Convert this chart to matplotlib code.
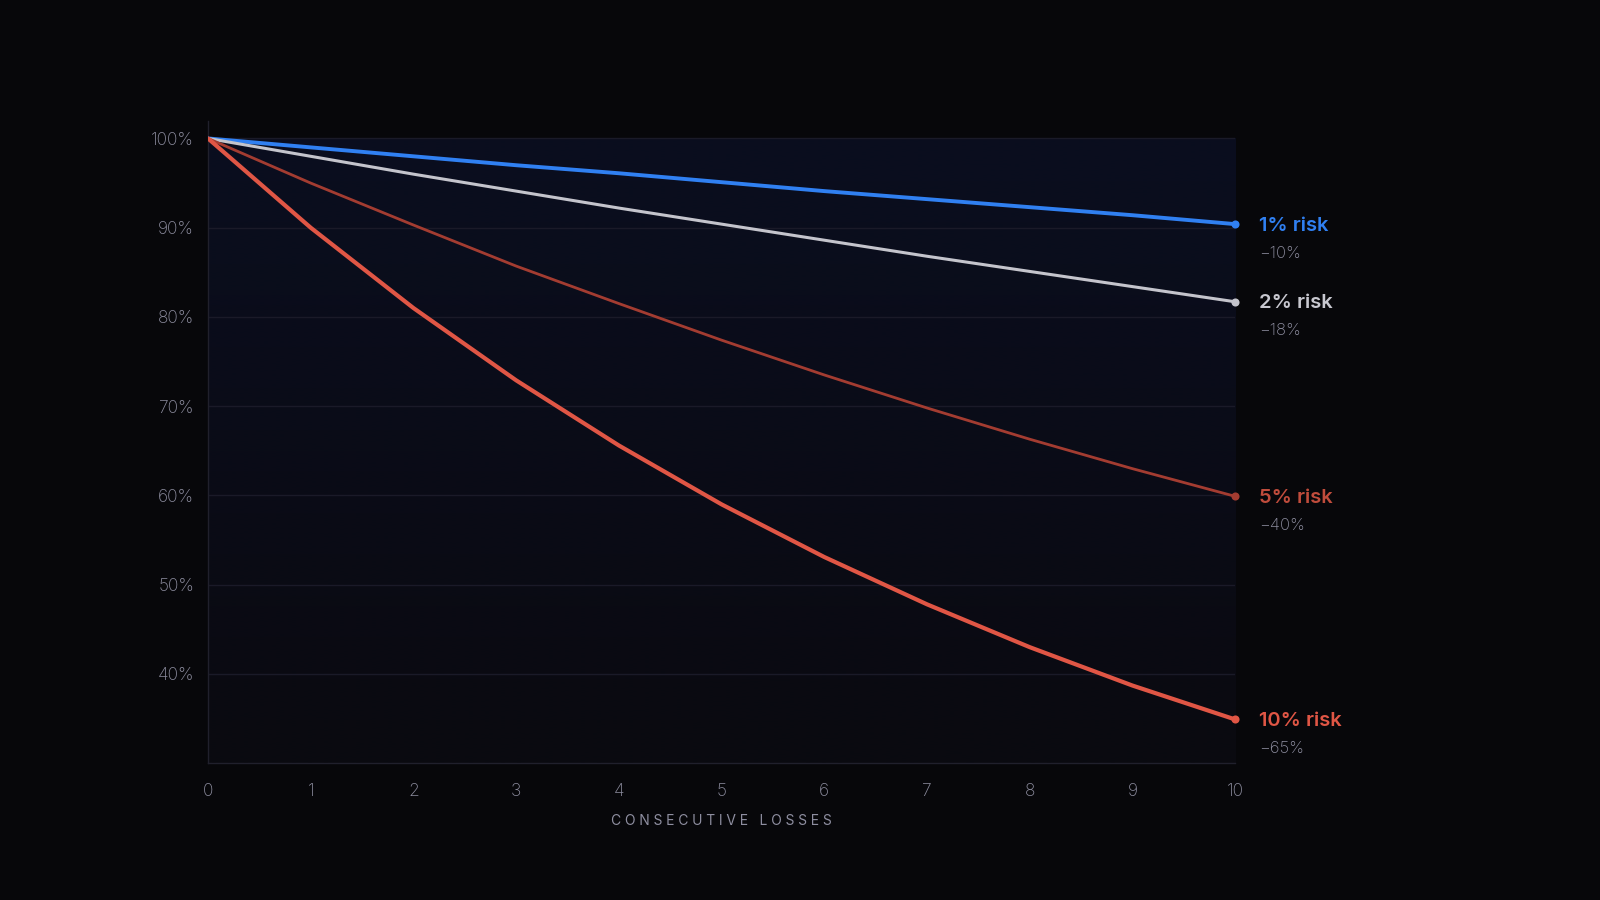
import numpy as np
import matplotlib
matplotlib.use("Agg")
import matplotlib.pyplot as plt
from matplotlib.colors import LinearSegmentedColormap

plt.rcParams['font.family'] = ['Inter', 'DejaVu Sans']

losses = [0, 1, 2, 3, 4, 5, 6, 7, 8, 9, 10]
risk_1 = [100, 99.0, 98.0, 97.0, 96.1, 95.1, 94.1, 93.2, 92.3, 91.4, 90.4]
risk_2 = [100, 98.0, 96.0, 94.1, 92.2, 90.4, 88.6, 86.8, 85.1, 83.4, 81.7]
risk_5 = [100, 95.0, 90.3, 85.7, 81.5, 77.4, 73.5, 69.8, 66.3, 63.0, 59.9]
risk_10 = [100, 90.0, 81.0, 72.9, 65.6, 59.0, 53.1, 47.8, 43.0, 38.7, 34.9]
series_names = ["1% risk", "2% risk", "5% risk", "10% risk"]
drawdown_labels = ["\u221210%", "\u221218%", "\u221240%", "\u221265%"]
y_ticks = [40, 50, 60, 70, 80, 90, 100]
x_ticks = [0, 1, 2, 3, 4, 5, 6, 7, 8, 9, 10]

BG = "#07070a"
TICK = "#8e8ea0"
line_colors = ["#3080f2", "#c4c4cc", "#a33c31", "#e05645"]
label_colors = ["#3080f2", "#c8c8d0", "#c04c3c", "#e05645"]
line_widths = [2.8, 2.2, 2.0, 3.0]

fig = plt.figure(figsize=(16, 9), dpi=100, facecolor=BG)
ax = fig.add_axes([0.130, 0.152, 0.642, 0.714])
ax.set_facecolor(BG)

# gradient area under the plot
cmap = LinearSegmentedColormap.from_list("g", ["#0a0a10", "#0a0e1f"])
grad = np.linspace(0, 1, 256).reshape(-1, 1)
ax.imshow(grad, extent=[0, 10, 30, 100], origin="lower", cmap=cmap,
          aspect="auto", zorder=0, interpolation="bilinear")

for yt in y_ticks:
    ax.plot([0, 10], [yt, yt], color="#1a1a28", lw=1.0, zorder=1)

all_series = [risk_1, risk_2, risk_5, risk_10]
for vals, c, lw in zip(all_series, line_colors, line_widths):
    ax.plot(losses, vals, color=c, lw=lw, zorder=3, solid_capstyle="round")
    ax.scatter([losses[-1]], [vals[-1]], s=34, color=c, zorder=4, linewidths=0,
               clip_on=False)

for vals, name, dd, lc in zip(all_series, series_names, drawdown_labels, label_colors):
    ax.annotate(name, (losses[-1], vals[-1]), xytext=(17, -1), textcoords="offset points",
                ha="left", va="center", color=lc, fontsize=14.5, fontweight="semibold",
                annotation_clip=False)
    ax.annotate(dd, (losses[-1], vals[-1]), xytext=(17, -21), textcoords="offset points",
                ha="left", va="center", color=TICK, fontsize=12, fontweight="light",
                annotation_clip=False)

ax.set_xlim(0, 10)
ax.set_ylim(30, 102)
ax.set_xticks(x_ticks)
ax.set_xticklabels([str(v) for v in x_ticks], fontweight="light")
ax.set_yticks(y_ticks)
ax.set_yticklabels([f"{v}%" for v in y_ticks], fontweight="light")
ax.tick_params(axis="both", length=0, colors=TICK, labelsize=12.5)
ax.tick_params(axis="x", pad=14)
ax.tick_params(axis="y", pad=10)

for s in ["top", "right"]:
    ax.spines[s].set_visible(False)
for s in ["left", "bottom"]:
    ax.spines[s].set_color("#20202c")
    ax.spines[s].set_linewidth(1.0)

ax.set_xlabel("\u2009\u200a".join("CONSECUTIVE LOSSES"), color=TICK, fontsize=10,
              labelpad=10)

fig.savefig("out.png", dpi=100, facecolor=BG)
